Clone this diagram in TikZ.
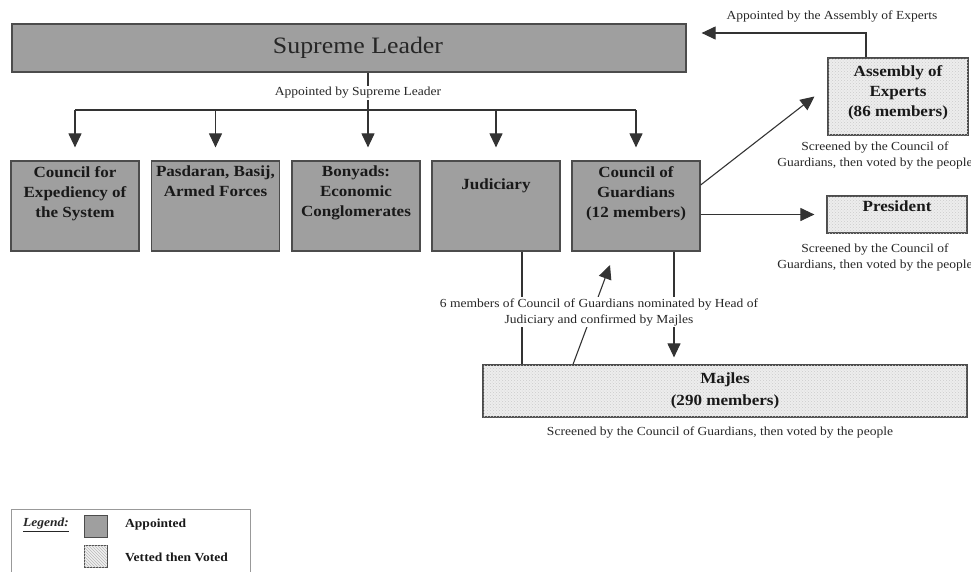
\documentclass[tikz,border=0pt]{standalone}
\usepackage{fontspec}
\setmainfont{Liberation Serif}[FakeStretch=1.1]
\usetikzlibrary{arrows.meta,patterns}

\tikzset{
	appointed/.style={draw=black!70, line width=1.2pt, fill=gray!75, minimum width=128pt, minimum height=90pt, inner sep=0pt},
	vetted/.style={draw=black!70, line width=1.2pt, fill=gray!14, inner sep=0pt, postaction={pattern=crosshatch dots, pattern color=gray!40}},
	boxtext/.style={font=\fontsize{15.5}{20}\selectfont\bfseries, text=black!90, align=center, anchor=north, inner sep=0pt},
	note/.style={font=\fontsize{12.3}{16}\selectfont, text=black!85, align=center, inner sep=1pt},
	conn/.style={draw=black!80, line width=1.1pt},
	arr/.style={conn, -{Triangle[length=14pt,width=13pt]}},
}

\begin{document}
\begin{tikzpicture}[x=1pt,y=-1pt]
\useasboundingbox (0,0) rectangle (971,571);

%leader
\node[appointed, minimum width=674pt, minimum height=48pt] (leader) at (349,48) {};
\node[font=\fontsize{23.5}{27}\selectfont, text=black!85] (leadertxt) at (358,48) {Supreme Leader};

%appointed bodies
\node[appointed] (expediency) at (75,206) {};
\node[appointed] (forces) at (215.5,206) {};
\node[appointed] (bonyads) at (356,206) {};
\node[appointed] (judiciary) at (496,206) {};
\node[appointed] (guardians) at (636,206) {};
\node[boxtext] (expeditxt) at (75,166) {Council for\\Expediency of\\the System};
\node[boxtext] (forcestxt) at (215.5,166) {Pasdaran, Basij,\\Armed Forces};
\node[boxtext] (bonyadstxt) at (356,166) {Bonyads:\\Economic\\Conglomerates};
\node[boxtext] (judiciarytxt) at (496,179) {Judiciary};
\node[boxtext] (guardianstxt) at (636,166) {Council of\\Guardians\\(12 members)};

%vetted bodies
\node[vetted, minimum width=140pt, minimum height=77pt] (assembly) at (898,96.5) {};
\node[boxtext] (assemblytxt) at (898,65) {Assembly of\\Experts\\(86 members)};
\node[vetted, minimum width=140pt, minimum height=37pt] (president) at (897,214.5) {};
\node[boxtext] (presidenttxt) at (897,201) {President};
\node[vetted, minimum width=484pt, minimum height=52pt, font=\fontsize{15.5}{22}\selectfont\bfseries, text=black!90, align=center] (majles) at (725,391) {Majles\\(290 members)};

%appointed by supreme leader
\coordinate (bus) at (368,110);
\draw[conn] (leader.south -| bus) -- (bus);
\node[note, fill=white] (leadernote) at (358,93) {Appointed by Supreme Leader};
\draw[conn] (expediency.north |- bus) -- (guardians.north |- bus);
\foreach \n in {expediency,forces,judiciary,guardians}{
	\draw[arr, shorten >=13pt] (\n.north |- bus) -- (\n.north);
}
\draw[arr, shorten >=13pt] (bus) -- (bus |- bonyads.north);

%assembly -> leader
\coordinate (aeup) at (866,33);
\draw[arr] (assembly.north -| aeup) -- (aeup) -- ([xshift=15pt]leader.east |- aeup);
\node[note] (assemblynote) at (832,16) {Appointed by the Assembly of Experts};

%guardians screen
\draw[arr] ([yshift=21pt]guardians.east) -- ([xshift=-13pt]assembly.west);
\draw[arr, shorten >=12pt] (guardians.east |- president.west) -- (president.west);
\node[note] (assemblyscr) at (875,155) {Screened by the Council of\\Guardians, then voted by the people};
\node[note] (presidentscr) at (875,257) {Screened by the Council of\\Guardians, then voted by the people};

%judiciary / majles
\coordinate (judfoot) at (522,0);
\coordinate (cgfoot) at (674,0);
\coordinate (nomfoot) at (573,365);
\coordinate (nomtip) at (610,265);
\draw[conn] (judiciary.south -| judfoot) -- (majles.north -| judfoot);
\draw[arr] (majles.north -| nomfoot) -- (nomtip);
\draw[arr, shorten >=7pt] (guardians.south -| cgfoot) -- (majles.north -| cgfoot);
\node[note, fill=white] (nomnote) at (599,312) {6 members of Council of Guardians nominated by Head of\\Judiciary and confirmed by Majles};
\node[note] (majlesscr) at (720,432) {Screened by the Council of Guardians, then voted by the people};

%legend
\draw[draw=black!40, line width=1pt] (11,509) rectangle (250,600);
\node[font=\fontsize{12.3}{15}\selectfont\bfseries\itshape, text=black!85, inner sep=0pt] (legendtxt) at (46,525) {\underline{Legend:}};
\node[appointed, minimum width=23pt, minimum height=22pt, line width=1pt] (legapp) at (95.5,526) {};
\node[draw=black!70, line width=1pt, fill=gray!12, minimum width=23pt, minimum height=22pt, inner sep=0pt, postaction={pattern=north west lines, pattern color=gray!55}] (legvet) at (95.5,556) {};
\node[font=\fontsize{12.3}{15}\selectfont\bfseries, text=black!90, anchor=west, inner sep=0pt] (legapptxt) at (125,525) {Appointed};
\node[font=\fontsize{12.3}{15}\selectfont\bfseries, text=black!90, anchor=west, inner sep=0pt] (legvettxt) at (125,557) {Vetted then Voted};

\end{tikzpicture}
\end{document}
